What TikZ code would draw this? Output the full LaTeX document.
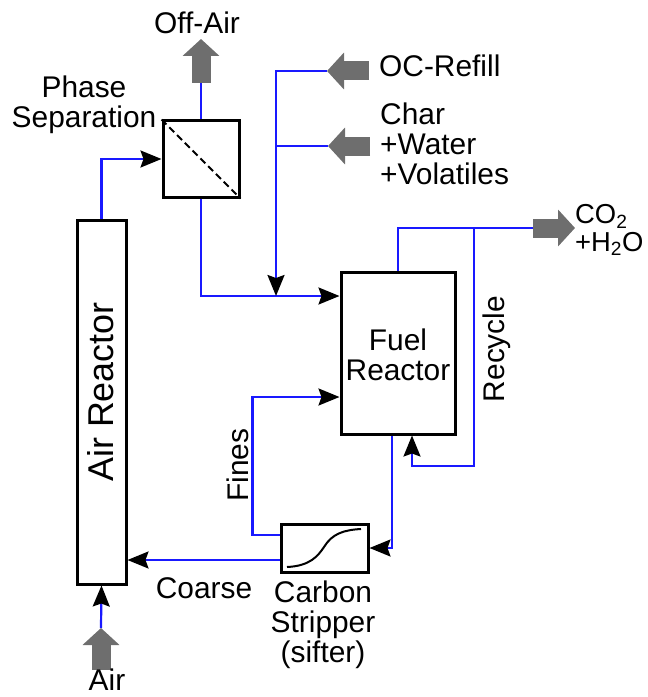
\documentclass[tikz,border=0pt]{standalone}
\usepackage{fontspec}
\setmainfont{Liberation Sans}
\usetikzlibrary{arrows.meta}

\definecolor{flowblue}{RGB}{25,25,255}
\definecolor{feedgray}{RGB}{110,110,110}

\begin{document}
\begin{tikzpicture}
[
	x=1bp,
	y=-1bp,
	unit/.style={draw,line width=3bp,rectangle,inner sep=0pt},
	line/.style={draw=flowblue,line width=2.2bp},
	flow/.style={line,-{Stealth[length=21bp,width=17bp,inset=3bp,fill=black,color=black]}},
	feed/.style={draw=feedgray,line width=19bp,-{Triangle[length=17bp,width=36bp]}},
	lbl/.style={font=\fontsize{30}{30}\selectfont,inner sep=0pt}
]
	\useasboundingbox (0,0) rectangle (648,697);

	% units
	\node[unit,minimum width=49bp,minimum height=363bp] (air) at (101.5,402.5) {};
	\node[unit,minimum width=76bp,minimum height=76bp] (phase) at (201,159) {};
	\node[unit,minimum width=114bp,minimum height=162bp] (fuel) at (398,353) {};
	\node[unit,minimum width=87bp,minimum height=48bp] (strip) at (324.5,548) {};

	% unit insides
	\draw[line width=2bp,dash pattern=on 7bp off 4bp] (phase.north west) -- (phase.south east);
	\draw[line width=2bp] (287,567) .. controls (310,566) and (318,556) .. (324,547)
	  .. controls (332,534) and (343,530) .. (361,529);

	% gray feeds and products
	\coordinate (offBase) at (201,83);
	\coordinate (offTip) at (201,39);
	\coordinate (ocBase) at (369,71);
	\coordinate (ocTip) at (327,71);
	\coordinate (charBase) at (370,146);
	\coordinate (charTip) at (328,146);
	\coordinate (co2Base) at (533,228);
	\coordinate (co2Tip) at (575,228);
	\coordinate (airBase) at (101,670);
	\coordinate (airTip) at (101,628);
	\draw[feed] (offBase) -- (offTip);
	\draw[feed] (ocBase) -- (ocTip);
	\draw[feed] (charBase) -- (charTip);
	\draw[feed] (co2Base) -- (co2Tip);
	\draw[feed] (airBase) -- (airTip);

	% streams
	\coordinate (mix) at (276,296);
	\coordinate (rec) at (474,228);
	\coordinate (coarseOut) at ([yshift=-12bp]strip.west);
	\draw[flow] (air.north) |- (phase.west);
	\draw[line] (phase.north) -- (offBase);
	\draw[flow] (phase.south) |- (mix) -- (fuel.west |- mix);
	\draw[flow] (ocTip) -| (mix);
	\draw[line] (charTip) -- (charTip -| mix);
	\draw[line] (fuel.north) |- (co2Base);
	\draw[flow] (rec) -- ++(0,238) -| ([xshift=14bp]fuel.south);
	\draw[flow] ([xshift=-6bp]fuel.south) |- (strip.east);
	\draw[flow] ([yshift=13bp]strip.west) -- ++(-27,0) |- ([yshift=-44bp]fuel.west);
	\draw[flow] (coarseOut) -- (coarseOut -| air.east);
	\draw[flow] (airTip) -- (air.south);

	% labels
	\node[lbl] (offLbl) at (197,23) {Off-Air};
	\node[lbl,align=center] (phaseLbl) at (84,105) {Phase\\Separation};
	\node[lbl,anchor=base west] (ocLbl) at (379,77) {OC-Refill};
	\node[lbl,align=left,anchor=west] (charLbl) at (380,144) {Char\\+Water\\+Volatiles};
	\node[lbl,align=left,anchor=west,font=\fontsize{27.5}{28}\selectfont] (co2Lbl) at (575,230) {CO\textsubscript{2}\\+H\textsubscript{2}O};
	\node[lbl,align=center] (fuelLbl) at (398,355) {Fuel\\Reactor};
	\node[lbl,rotate=90] (recLbl) at (497,349) {Recycle};
	\node[lbl,rotate=90,font=\fontsize{36}{36}\selectfont] (airLbl) at (101,392) {Air Reactor};
	\node[lbl,rotate=90] (finesLbl) at (238,465) {Fines};
	\node[lbl] (coarseLbl) at (204,588) {Coarse};
	\node[lbl,align=center] (stripLbl) at (323,625) {Carbon\\Stripper\\(sifter)};
	\node[lbl] (airInLbl) at (107,680) {Air};

\end{tikzpicture}
\end{document}
